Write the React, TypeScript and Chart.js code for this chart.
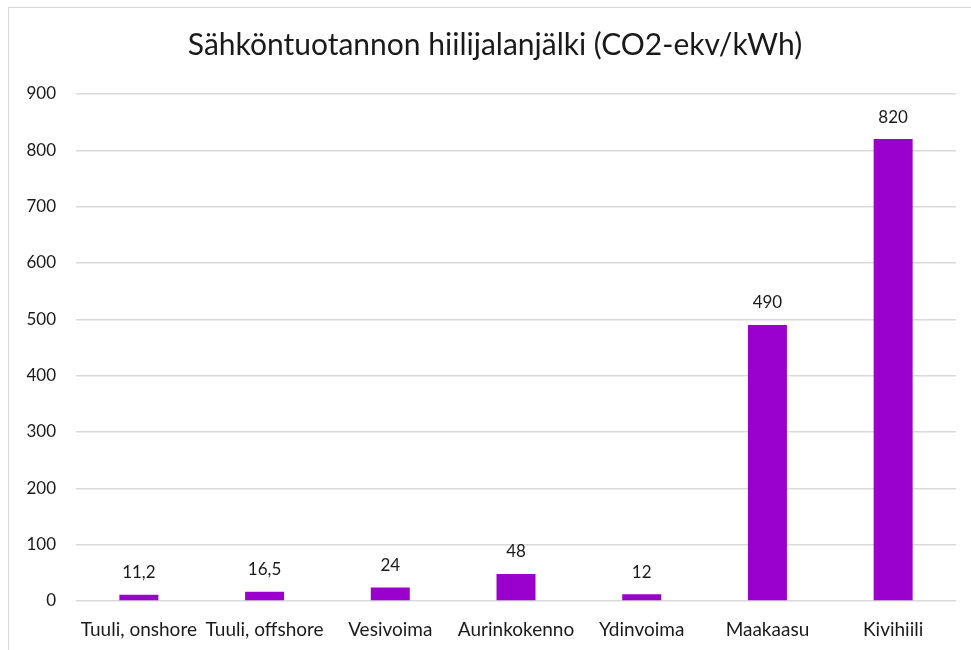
import React, { useEffect, useRef } from "react";
import { Chart, registerables } from "chart.js";

Chart.register(...registerables);

const titleText = "Sähköntuotannon hiilijalanjälki (CO2-ekv/kWh)";
const categories = [
  "Tuuli, onshore",
  "Tuuli, offshore",
  "Vesivoima",
  "Aurinkokenno",
  "Ydinvoima",
  "Maakaasu",
  "Kivihiili",
];
const values = [11.2, 16.5, 24, 48, 12, 490, 820];
const yMin = 0;
const yMax = 900;
const yStep = 100;

const FONT = "Lato, 'Open Sans', sans-serif";

const dataLabelPlugin = {
  id: "dataLabels",
  afterDatasetsDraw(chart: any) {
    const ctx = chart.ctx;
    const meta = chart.getDatasetMeta(0);
    ctx.save();
    ctx.font = `17px ${FONT}`;
    ctx.fillStyle = "#1a1a1a";
    ctx.textAlign = "center";
    ctx.textBaseline = "middle";
    meta.data.forEach((bar: any, i: number) => {
      const v = values[i];
      const txt = String(v).replace(".", ",");
      ctx.fillText(txt, bar.x, bar.y - 22);
    });
    ctx.restore();
  },
};

const titlePlugin = {
  id: "customTitle",
  afterDraw(chart: any) {
    const ctx = chart.ctx;
    const tb = chart.titleBlock;
    ctx.save();
    ctx.font = `30px ${FONT}`;
    ctx.fillStyle = "#1a1a1a";
    ctx.textAlign = "center";
    ctx.textBaseline = "middle";
    const cy = tb ? (tb.top + tb.bottom) / 2 : 45;
    ctx.fillText(titleText, 495, 45 + (cy - cy));
    ctx.restore();
  },
};

export default function App() {
  const ref = useRef<HTMLCanvasElement | null>(null);
  useEffect(() => {
    if (!ref.current) return;
    const chart = new Chart(ref.current, {
      type: "bar",
      data: {
        labels: categories,
        datasets: [
          {
            data: values,
            backgroundColor: "#9900CC",
            borderWidth: 0,
            categoryPercentage: 1,
            barPercentage: 0.31,
          },
        ],
      },
      options: {
        responsive: false,
        animation: false,
        layout: { padding: { left: 0, right: 15, top: 0, bottom: 0 } },
        plugins: {
          legend: { display: false },
          tooltip: { enabled: false },
          title: {
            display: true,
            text: titleText,
            color: "rgba(0,0,0,0)",
            font: { family: FONT, size: 30, weight: "normal" },
            padding: { top: 27, bottom: 31 },
          },
        },
        scales: {
          x: {
            grid: { display: false },
            border: { display: false },
            ticks: {
              color: "#1a1a1a",
              font: { family: FONT, size: 19 },
              padding: 9,
              maxRotation: 0,
              autoSkip: false,
            },
            afterFit(scale: any) {
              scale.height = 49;
            },
          },
          y: {
            min: yMin,
            max: yMax,
            grid: { color: "#d9d9d9", lineWidth: 1.5, drawTicks: false },
            border: { display: false },
            ticks: {
              stepSize: yStep,
              color: "#1a1a1a",
              font: { family: FONT, size: 17 },
              padding: 20,
            },
            afterFit(scale: any) {
              scale.width = 76;
            },
          },
        },
      },
      plugins: [dataLabelPlugin, titlePlugin],
    });
    return () => chart.destroy();
  }, []);

  return (
    <div style={{ position: "fixed", inset: 0, overflow: "hidden", background: "#fff" }}>
      <div
        style={{
          position: "absolute",
          left: 8,
          top: 7,
          width: 1000,
          height: 700,
          borderLeft: "1.5px solid #d9d9d9",
          borderTop: "1.5px solid #d9d9d9",
        }}
      />
      <canvas
        ref={ref}
        width={971}
        height={650}
        style={{ position: "absolute", left: 0, top: 0 }}
      />
    </div>
  );
}
